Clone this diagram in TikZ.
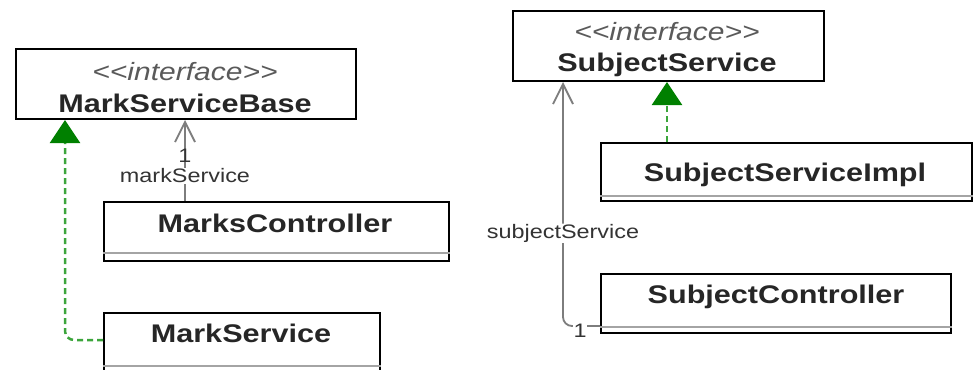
\documentclass[tikz,border=0pt]{standalone}
\usepackage{fontspec}
\setmainfont{Liberation Sans}
\newfontfamily\umlfont[FakeStretch=1.2]{Liberation Sans}
\usetikzlibrary{arrows.meta,calc}
\definecolor{umlgreen}{RGB}{0,128,0}
\definecolor{dashgreen}{RGB}{60,165,60}
\definecolor{assocgray}{RGB}{125,125,125}
\definecolor{stereogray}{RGB}{90,90,90}
\tikzset{
  classbox/.style={draw=black, line width=2pt, fill=white, rectangle, anchor=north west, inner sep=0pt},
  sepline/.style={draw=assocgray!70, line width=1.3pt},
  classname/.style={font=\umlfont\bfseries\fontsize{25.5}{28}\selectfont, text=black!85, inner sep=0pt},
  stereo/.style={font=\umlfont\itshape\fontsize{25}{28}\selectfont, text=stereogray, inner sep=0pt},
  rolelabel/.style={font=\umlfont\fontsize{19.5}{22}\selectfont, text=black!80, fill=white, inner sep=0.5pt},
  assoc/.style={draw=assocgray, line width=1.8pt, -{Straight Barb[length=20pt,width=20pt,line width=1.8pt]}},
  realize/.style={draw=dashgreen, line width=2.5pt, dash pattern=on 6pt off 4pt,
    -{Triangle[length=23pt,width=30pt,fill=umlgreen,color=umlgreen,sep=0pt]}},
}
\begin{document}
\begin{tikzpicture}[x=1pt,y=-1pt]
\useasboundingbox (0,0) rectangle (973,369);
\clip (0,0) rectangle (973,369);
\fill[white] (0,0) rectangle (973,369);

% MarkServiceBase
\node[classbox, minimum width=340pt, minimum height=70pt] (msb) at (15,48) {};
\node[stereo] (msbst) at (185,72) {<<interface>>};
\node[classname] (msbn) at (185,103) {MarkServiceBase};

% MarksController
\node[classbox, minimum width=345pt, minimum height=59pt] (mc) at (103,201) {};
\draw[sepline] ([yshift=-52pt]mc.north west) -- ([yshift=-52pt]mc.north east);
\node[classname] (mcn) at (275,223) {MarksController};

% MarkService
\node[classbox, minimum width=276pt, minimum height=62pt] (ms) at (103,312) {};
\draw[sepline] ([yshift=-54pt]ms.north west) -- ([yshift=-54pt]ms.north east);
\node[classname] (msn) at (241,333) {MarkService};

% SubjectService
\node[classbox, minimum width=311pt, minimum height=70pt] (ss) at (512,10) {};
\node[stereo] (ssst) at (667,32) {<<interface>>};
\node[classname] (ssn) at (667,65) {SubjectService};

% SubjectServiceImpl
\node[classbox, minimum width=371pt, minimum height=58pt] (ssi) at (600,142) {};
\draw[sepline] ([yshift=-54pt]ssi.north west) -- ([yshift=-54pt]ssi.north east);
\node[classname] (ssin) at (785,175) {SubjectServiceImpl};

% SubjectController
\node[classbox, minimum width=350pt, minimum height=59pt] (sc) at (600,273) {};
\draw[sepline] ([yshift=-54pt]sc.north west) -- ([yshift=-54pt]sc.north east);
\node[classname] (scn) at (776,297) {SubjectController};

% Association MarksController -> MarkServiceBase
\draw[assoc] ([xshift=82pt]mc.north west) -- ([xshift=170pt]msb.south west)
  node[rolelabel, pos=0.31] (l2) {markService}
  node[rolelabel, pos=0.56, inner sep=0pt] (l1) {1};

% Realization MarkService -> MarkServiceBase
\draw[realize, rounded corners=9pt] ([yshift=-28pt]ms.north west) -| ([xshift=50pt]msb.south west);

% Realization SubjectServiceImpl -> SubjectService
\draw[realize] ([xshift=67pt]ssi.north west) -- ([xshift=155pt]ss.south west);

% Association SubjectController -> SubjectService
\draw[assoc, rounded corners=9pt] ([yshift=-53pt]sc.north west) -| ([xshift=51pt]ss.south west)
  node[rolelabel, pos=0.69] (l3) {subjectService};
\node[rolelabel, inner sep=0.5pt] (l4) at (580,331) {1};
\end{tikzpicture}
\end{document}
